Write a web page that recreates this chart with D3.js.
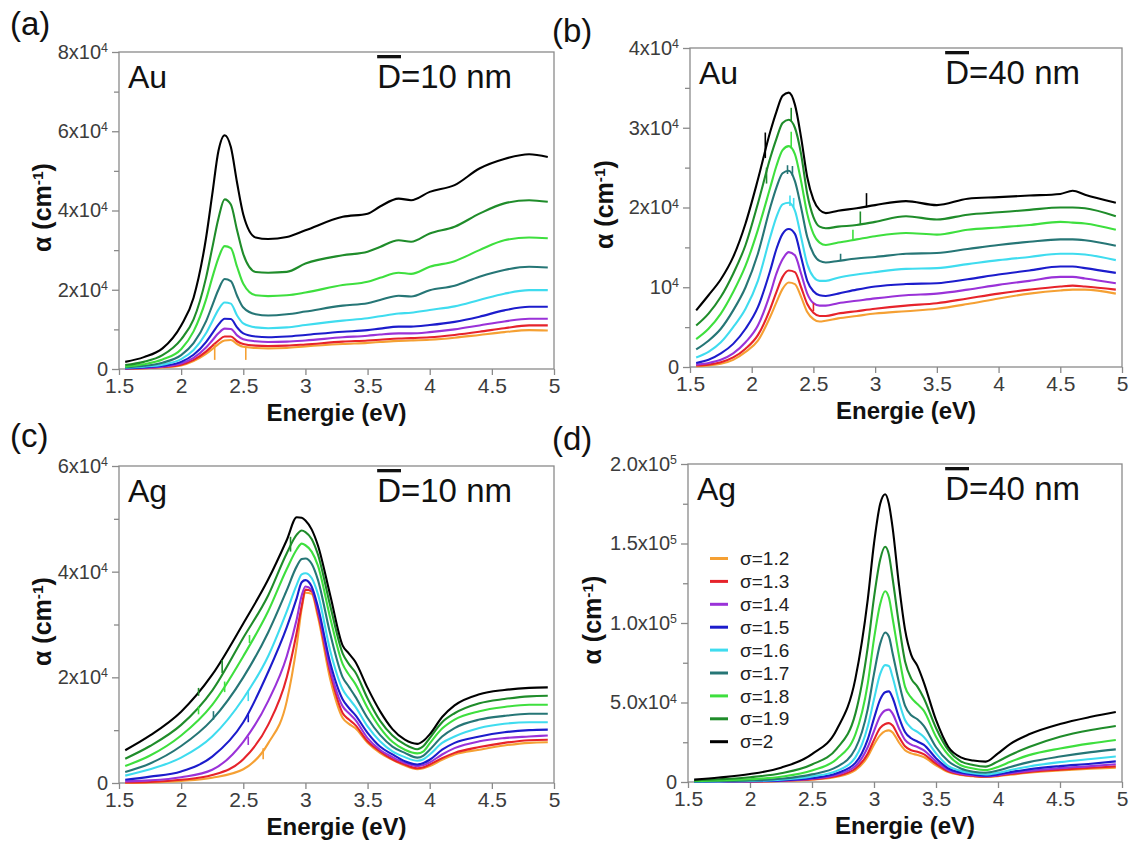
<!DOCTYPE html>
<html><head><meta charset="utf-8">
<script src="https://cdn.jsdelivr.net/npm/d3@7"></script>
<style>
body{margin:0;background:#fff}
svg{display:block}
text{font-family:"Liberation Sans",Arial,Helvetica,sans-serif}
</style>
</head><body>
<svg id="chart" width="1131" height="844"></svg>
<script>
// ---------------- data (alpha values in units of 1e4 cm^-1) ----------------
const UNIT = 1e4;
const sigmaLabels = ["σ=1.2","σ=1.3","σ=1.4","σ=1.5","σ=1.6","σ=1.7","σ=1.8","σ=1.9","σ=2"];
const sigmaColors = ["#f5a033","#e6232b","#9a32d8","#1c1ccc","#3fdcef","#267676","#3edf3e","#1f8c2a","#000000"];
const xTicks = [1.5,2,2.5,3,3.5,4,4.5,5];
const xTickLabels = ["1.5","2","2.5","3","3.5","4","4.5","5"];

// (a) Au, D=10 nm
const energyAuD10 = [1.55,1.7,1.85,2.0,2.1,2.2,2.25,2.3,2.35,2.4,2.45,2.5,2.6,2.7,2.85,3.0,3.3,3.5,3.6,3.75,3.85,4.0,4.2,4.4,4.6,4.8,4.95];
const alphaAuD10 = [
 [0.01,0.02,0.04,0.09,0.2,0.38,0.5,0.63,0.72,0.73,0.63,0.56,0.53,0.52,0.53,0.57,0.63,0.66,0.68,0.71,0.72,0.74,0.79,0.86,0.93,0.98,0.97],
 [0.01,0.02,0.05,0.11,0.23,0.44,0.58,0.72,0.82,0.82,0.7,0.63,0.59,0.58,0.59,0.62,0.69,0.72,0.74,0.77,0.78,0.8,0.86,0.94,1.03,1.1,1.1],
 [0.01,0.03,0.06,0.14,0.28,0.54,0.72,0.9,1.02,1.01,0.85,0.75,0.7,0.68,0.69,0.72,0.8,0.84,0.87,0.9,0.9,0.93,1.0,1.1,1.2,1.27,1.27],
 [0.02,0.04,0.08,0.18,0.36,0.68,0.9,1.12,1.27,1.26,1.05,0.9,0.82,0.8,0.82,0.86,0.94,0.98,1.02,1.07,1.07,1.11,1.19,1.32,1.48,1.57,1.57],
 [0.03,0.06,0.11,0.25,0.48,0.9,1.2,1.5,1.68,1.65,1.35,1.15,1.05,1.03,1.05,1.11,1.22,1.28,1.33,1.4,1.42,1.49,1.58,1.74,1.9,1.99,1.99],
 [0.04,0.08,0.16,0.35,0.65,1.2,1.6,2.0,2.27,2.22,1.85,1.55,1.38,1.35,1.38,1.45,1.6,1.66,1.74,1.85,1.83,1.99,2.1,2.33,2.5,2.58,2.56],
 [0.06,0.12,0.24,0.5,0.95,1.75,2.3,2.8,3.1,3.05,2.58,2.15,1.86,1.84,1.86,1.93,2.12,2.2,2.3,2.43,2.4,2.58,2.72,3.0,3.25,3.32,3.3],
 [0.1,0.18,0.35,0.75,1.25,2.3,3.05,3.8,4.28,4.15,3.5,2.9,2.45,2.43,2.45,2.66,2.87,2.96,3.08,3.25,3.21,3.42,3.59,3.92,4.18,4.26,4.22],
 [0.18,0.3,0.52,1.1,1.8,3.3,4.4,5.5,5.9,5.6,4.7,3.9,3.32,3.28,3.33,3.5,3.84,3.92,4.1,4.3,4.26,4.47,4.64,5.06,5.3,5.42,5.35]
];
const glitchAuD10 = [[0,2.27,0.23,0.62],[0,2.52,0.23,0.56]];

// (b) Au, D=40 nm
const energyAuD40 = [1.55,1.65,1.75,1.85,1.95,2.05,2.15,2.2,2.25,2.3,2.35,2.4,2.45,2.5,2.55,2.6,2.7,2.85,3.0,3.25,3.5,3.75,4.0,4.25,4.5,4.6,4.7,4.95];
const alphaAuD40 = [
 [0.01,0.02,0.04,0.09,0.19,0.33,0.63,0.81,0.98,1.06,1.04,0.88,0.69,0.6,0.57,0.58,0.61,0.64,0.67,0.7,0.73,0.79,0.86,0.92,0.96,0.97,0.97,0.92],
 [0.02,0.03,0.06,0.12,0.23,0.4,0.73,0.94,1.13,1.21,1.19,1.0,0.79,0.68,0.64,0.64,0.67,0.7,0.73,0.77,0.8,0.86,0.92,0.97,1.01,1.02,1.01,0.97],
 [0.03,0.05,0.09,0.17,0.31,0.52,0.92,1.17,1.35,1.44,1.4,1.17,0.92,0.8,0.77,0.77,0.8,0.83,0.86,0.9,0.92,0.97,1.03,1.08,1.13,1.13,1.11,1.05],
 [0.05,0.09,0.17,0.29,0.48,0.75,1.21,1.48,1.67,1.73,1.67,1.38,1.08,0.95,0.9,0.89,0.92,0.97,1.01,1.04,1.05,1.1,1.16,1.21,1.26,1.26,1.24,1.18],
 [0.12,0.19,0.31,0.5,0.73,1.08,1.63,1.88,2.04,2.06,1.96,1.63,1.29,1.13,1.08,1.08,1.12,1.16,1.19,1.23,1.24,1.29,1.34,1.38,1.42,1.42,1.41,1.34],
 [0.22,0.33,0.48,0.71,1.0,1.42,2.0,2.25,2.43,2.46,2.33,2.0,1.63,1.42,1.33,1.31,1.33,1.36,1.38,1.42,1.43,1.48,1.53,1.57,1.6,1.6,1.59,1.52],
 [0.35,0.48,0.67,0.94,1.27,1.72,2.25,2.52,2.72,2.77,2.67,2.33,1.92,1.67,1.56,1.53,1.56,1.6,1.64,1.68,1.66,1.72,1.75,1.78,1.82,1.81,1.8,1.72],
 [0.52,0.67,0.88,1.17,1.53,2.05,2.62,2.86,3.06,3.1,3.0,2.67,2.17,1.88,1.76,1.74,1.76,1.78,1.82,1.89,1.85,1.91,1.94,1.97,2.0,2.0,1.99,1.89],
 [0.71,0.9,1.1,1.38,1.8,2.35,2.95,3.2,3.4,3.44,3.29,2.88,2.38,2.1,1.97,1.93,1.96,1.99,2.03,2.08,2.03,2.11,2.13,2.15,2.17,2.21,2.16,2.06]
];
const glitchAuD40 = [[8,2.11,2.62,2.94],[7,2.12,2.3,2.5],[8,2.93,2.0,2.18],[7,2.88,1.78,1.95],[6,2.82,1.6,1.72],[5,2.72,1.34,1.42],
 [7,2.32,3.08,3.25],[6,2.32,2.74,2.95],[5,2.29,2.42,2.53],[5,2.33,2.4,2.52],[4,2.31,2.02,2.15],[4,2.34,2.0,2.12],[1,2.5,0.7,0.8]];

// (c) Ag, D=10 nm
const energyAgD10 = [1.55,1.75,2.0,2.25,2.5,2.7,2.85,2.93,2.97,3.0,3.05,3.1,3.2,3.3,3.35,3.4,3.5,3.6,3.7,3.8,3.9,3.95,4.0,4.1,4.2,4.4,4.6,4.8,4.95];
const alphaAgD10 = [
 [0.0,0.01,0.04,0.1,0.26,0.75,1.55,2.6,3.3,3.6,3.58,3.15,1.96,1.23,1.12,1.04,0.76,0.57,0.44,0.33,0.26,0.28,0.32,0.44,0.54,0.63,0.71,0.76,0.77],
 [0.01,0.02,0.06,0.15,0.45,1.1,2.0,2.85,3.35,3.66,3.63,3.22,2.08,1.32,1.2,1.1,0.79,0.6,0.45,0.35,0.28,0.3,0.35,0.47,0.57,0.68,0.76,0.81,0.82],
 [0.03,0.05,0.11,0.25,0.78,1.55,2.4,3.1,3.55,3.72,3.66,3.28,2.15,1.45,1.32,1.2,0.85,0.63,0.49,0.38,0.32,0.34,0.39,0.54,0.66,0.79,0.85,0.88,0.9],
 [0.06,0.12,0.22,0.5,1.15,2.1,2.95,3.5,3.8,3.84,3.72,3.34,2.27,1.58,1.42,1.29,0.95,0.69,0.54,0.41,0.35,0.38,0.44,0.63,0.76,0.88,0.96,1.0,1.01],
 [0.14,0.26,0.48,0.88,1.6,2.4,3.25,3.75,3.95,3.97,3.88,3.58,2.5,1.77,1.6,1.45,1.07,0.79,0.6,0.49,0.42,0.45,0.54,0.76,0.88,1.04,1.12,1.15,1.15],
 [0.21,0.37,0.7,1.2,2.0,2.85,3.65,4.1,4.24,4.25,4.15,3.85,2.82,2.0,1.82,1.64,1.23,0.91,0.69,0.57,0.48,0.52,0.63,0.88,1.04,1.2,1.27,1.31,1.31],
 [0.32,0.52,0.9,1.48,2.4,3.25,4.05,4.42,4.53,4.5,4.38,4.12,3.12,2.25,2.05,1.88,1.42,1.05,0.78,0.63,0.56,0.6,0.75,1.03,1.2,1.36,1.44,1.48,1.48],
 [0.46,0.7,1.1,1.75,2.75,3.55,4.35,4.7,4.78,4.75,4.62,4.33,3.35,2.45,2.25,2.1,1.6,1.18,0.9,0.73,0.64,0.7,0.85,1.15,1.32,1.51,1.59,1.64,1.65],
 [0.62,0.9,1.35,2.05,3.02,3.85,4.6,5.03,5.02,4.97,4.8,4.5,3.55,2.6,2.45,2.3,1.8,1.36,1.02,0.82,0.74,0.8,0.92,1.25,1.47,1.68,1.76,1.8,1.81]
];
const glitchAgD10 = [[7,2.33,2.08,2.33],[6,2.35,1.72,1.92],[5,2.26,1.2,1.36],[6,2.55,2.65,2.8],[4,2.54,1.55,1.75],
 [3,2.54,1.15,1.32],[2,2.54,0.72,0.88],[0,2.66,0.45,0.66],[7,2.88,4.38,4.66],[6,2.14,1.3,1.45],[7,2.14,1.65,1.8]];

// (d) Ag, D=40 nm
const energyAgD40 = [1.55,1.75,2.0,2.25,2.5,2.7,2.85,2.95,3.0,3.05,3.09,3.12,3.15,3.2,3.25,3.3,3.35,3.4,3.5,3.6,3.7,3.8,3.9,4.0,4.1,4.25,4.5,4.75,4.95];
const alphaAgD40 = [
 [0.01,0.02,0.03,0.06,0.15,0.33,0.75,1.6,2.35,2.95,3.2,3.25,3.12,2.5,2.0,1.8,1.7,1.57,1.05,0.62,0.44,0.36,0.31,0.37,0.46,0.58,0.72,0.83,0.9],
 [0.01,0.02,0.03,0.07,0.17,0.38,0.85,1.8,2.65,3.4,3.65,3.7,3.55,2.85,2.25,2.0,1.9,1.75,1.15,0.67,0.47,0.38,0.33,0.4,0.5,0.63,0.78,0.9,0.98],
 [0.01,0.02,0.04,0.08,0.2,0.45,1.0,2.2,3.2,4.15,4.5,4.55,4.3,3.4,2.65,2.35,2.2,2.0,1.3,0.75,0.52,0.42,0.36,0.43,0.55,0.7,0.87,1.0,1.12],
 [0.01,0.03,0.05,0.1,0.25,0.55,1.2,2.7,4.0,5.2,5.65,5.7,5.3,4.1,3.15,2.75,2.55,2.35,1.5,0.85,0.6,0.47,0.4,0.48,0.62,0.8,1.0,1.15,1.3],
 [0.02,0.04,0.07,0.14,0.35,0.7,1.55,3.5,5.2,6.8,7.35,7.3,6.6,5.1,3.9,3.4,3.15,2.85,1.8,1.0,0.7,0.55,0.48,0.58,0.75,0.98,1.25,1.45,1.6],
 [0.04,0.06,0.1,0.2,0.48,0.95,2.1,4.6,6.8,8.7,9.4,9.15,8.1,6.3,4.8,4.2,3.95,3.55,2.2,1.3,0.85,0.65,0.58,0.72,0.95,1.25,1.6,1.88,2.05],
 [0.06,0.1,0.17,0.33,0.72,1.45,3.0,6.2,9.0,11.2,12.0,11.6,10.3,8.0,6.0,5.3,4.9,4.5,2.85,1.7,1.05,0.85,0.75,0.95,1.27,1.69,2.11,2.43,2.64],
 [0.1,0.17,0.3,0.55,1.1,2.1,4.3,8.5,11.6,14.0,14.8,14.3,12.8,10.0,7.6,6.5,6.0,5.3,3.4,2.0,1.3,1.07,0.97,1.3,1.7,2.2,2.85,3.27,3.52],
 [0.15,0.28,0.5,0.9,1.75,3.3,6.5,11.5,15.0,17.5,18.1,17.5,16.0,12.5,9.6,8.0,7.3,6.3,3.9,2.2,1.55,1.35,1.28,1.8,2.4,3.0,3.65,4.1,4.4]
];

// y-axis ticks (values in cm^-1) and labels
const yTicksAuD10 = [0,2e4,4e4,6e4,8e4];
const yLabelsAuD10 = ["0","2x10^4","4x10^4","6x10^4","8x10^4"];
const yMinorAuD10 = [1e4,3e4,5e4,7e4];
const yTicksAuD40 = [0,1e4,2e4,3e4,4e4];
const yLabelsAuD40 = ["0","10^4","2x10^4","3x10^4","4x10^4"];
const yMinorAuD40 = [5e3,1.5e4,2.5e4,3.5e4];
const yTicksAgD10 = [0,2e4,4e4,6e4];
const yLabelsAgD10 = ["0","2x10^4","4x10^4","6x10^4"];
const yMinorAgD10 = [1e4,3e4,5e4];
const yTicksAgD40 = [0,5e4,1e5,1.5e5,2e5];
const yLabelsAgD40 = ["0","5.0x10^4","1.0x10^5","1.5x10^5","2.0x10^5"];
const yMinorAgD40 = [2.5e4,7.5e4,1.25e5,1.75e5];

// ---------------- layout ----------------
const panels = [
 {tag:"(a)", metal:"Au", size:"10", energy:energyAuD10, alpha:alphaAuD10, glitch:glitchAuD10, yMax:8e4,
  yTicks:yTicksAuD10, yLabels:yLabelsAuD10, yMinor:yMinorAuD10, l:119, r:554, t:52, b:369, tagX:10, tagY:35, titleX:51},
 {tag:"(b)", metal:"Au", size:"40", energy:energyAuD40, alpha:alphaAuD40, glitch:glitchAuD40, yMax:4e4,
  yTicks:yTicksAuD40, yLabels:yLabelsAuD40, yMinor:yMinorAuD40, l:690, r:1122, t:48, b:367, tagX:552, tagY:42, titleX:613},
 {tag:"(c)", metal:"Ag", size:"10", energy:energyAgD10, alpha:alphaAgD10, glitch:glitchAgD10, yMax:6e4,
  yTicks:yTicksAgD10, yLabels:yLabelsAgD10, yMinor:yMinorAgD10, l:119, r:554, t:466, b:783, tagX:10, tagY:447, titleX:51},
 {tag:"(d)", metal:"Ag", size:"40", energy:energyAgD40, alpha:alphaAgD40, glitch:[], yMax:2e5,
  yTicks:yTicksAgD40, yLabels:yLabelsAgD40, yMinor:yMinorAgD40, l:688, r:1122, t:464, b:782, tagX:552, tagY:450, titleX:601, legend:true}
];

const svg = d3.select("#chart");
const AX = "#8a8a8a", TXT = "#3c3c3c";

function supLabel(sel, label){
  const parts = label.split("^");
  sel.text(parts[0]);
  if(parts[1]) sel.append("tspan").attr("dy","-0.55em").attr("font-size","0.62em").text(parts[1]);
}

panels.forEach(p=>{
  const x = d3.scaleLinear().domain([1.5,5]).range([p.l,p.r]);
  const y = d3.scaleLinear().domain([0,p.yMax]).range([p.b,p.t]);
  const g = svg.append("g");

  // x axis
  const gx = g.append("g").attr("transform",`translate(0,${p.b})`)
    .call(d3.axisBottom(x).tickValues(xTicks).tickFormat((d,i)=>xTickLabels[i]).tickSize(6).tickPadding(3));
  gx.select(".domain").remove();
  gx.selectAll(".tick line").attr("stroke",AX).attr("stroke-width",1.3);
  gx.selectAll(".tick text").attr("fill",TXT).attr("font-size",21).attr("font-family",null);

  // y axis minor
  const gm = g.append("g").attr("transform",`translate(${p.l},0)`)
    .call(d3.axisLeft(y).tickValues(p.yMinor).tickFormat("").tickSize(5));
  gm.select(".domain").remove();
  gm.selectAll(".tick line").attr("stroke",AX).attr("stroke-width",1.3);
  // y axis major
  const gy = g.append("g").attr("transform",`translate(${p.l},0)`)
    .call(d3.axisLeft(y).tickValues(p.yTicks).tickSize(7).tickPadding(4));
  gy.select(".domain").remove();
  gy.selectAll(".tick line").attr("stroke",AX).attr("stroke-width",1.3);
  gy.selectAll(".tick text").attr("fill",TXT).attr("font-size",20).attr("font-family",null)
    .each(function(d,i){ supLabel(d3.select(this), p.yLabels[i]); });

  // frame
  g.append("rect").attr("x",p.l).attr("y",p.t).attr("width",p.r-p.l).attr("height",p.b-p.t)
    .attr("fill","none").attr("stroke",AX).attr("stroke-width",1.3);

  // curves
  const line = d3.line().x(d=>x(d[0])).y(d=>y(d[1]*UNIT)).curve(d3.curveMonotoneX);
  p.alpha.forEach((vals,si)=>{
    g.append("path").datum(p.energy.map((e,k)=>[e,vals[k]]))
      .attr("d",line).attr("fill","none").attr("stroke",sigmaColors[si])
      .attr("stroke-width",2.1).attr("stroke-linejoin","round");
  });
  // small glitches present in the computed spectra
  p.glitch.forEach(gl=>{
    g.append("line").attr("x1",x(gl[1])).attr("x2",x(gl[1]))
      .attr("y1",y(gl[2]*UNIT)).attr("y2",y(gl[3]*UNIT))
      .attr("stroke",sigmaColors[gl[0]]).attr("stroke-width",1.6);
  });

  // labels
  svg.append("text").attr("x",p.tagX).attr("y",p.tagY).attr("font-size",33).attr("fill","#111").text(p.tag);
  svg.append("text").attr("x",p.l+9).attr("y",p.t+36).attr("font-size",32).attr("fill","#111").text(p.metal);
  const dt = svg.append("text").attr("x",p.r-42).attr("y",p.t+36).attr("text-anchor","end").attr("font-size",33).attr("fill","#111");
  dt.append("tspan").style("text-decoration","overline").text("D");
  dt.append("tspan").text(`=${p.size} nm`);

  // axis titles
  svg.append("text").attr("x",(p.l+p.r)/2).attr("y",p.b+52).attr("text-anchor","middle")
    .attr("font-size",24).attr("font-weight","bold").attr("fill","#111").text("Energie (eV)");
  const yt = svg.append("text").attr("transform",`translate(${p.titleX},${(p.t+p.b)/2-3}) rotate(-90)`)
    .attr("text-anchor","middle").attr("font-size",25).attr("font-weight","bold").attr("fill","#111");
  yt.append("tspan").text("α (cm");
  yt.append("tspan").attr("dy","-0.5em").attr("font-size","0.62em").text("-1");
  yt.append("tspan").attr("dy","0.31em").text(")");

  if(p.legend){
    sigmaLabels.forEach((lab,i)=>{
      const yy = 558.5 + i*22.9;
      svg.append("line").attr("x1",710).attr("x2",728).attr("y1",yy).attr("y2",yy)
        .attr("stroke",sigmaColors[i]).attr("stroke-width",3);
      svg.append("text").attr("x",740).attr("y",yy).attr("dy","0.35em").attr("font-size",19).attr("fill","#222").text(lab);
    });
  }
});
</script>
</body></html>
